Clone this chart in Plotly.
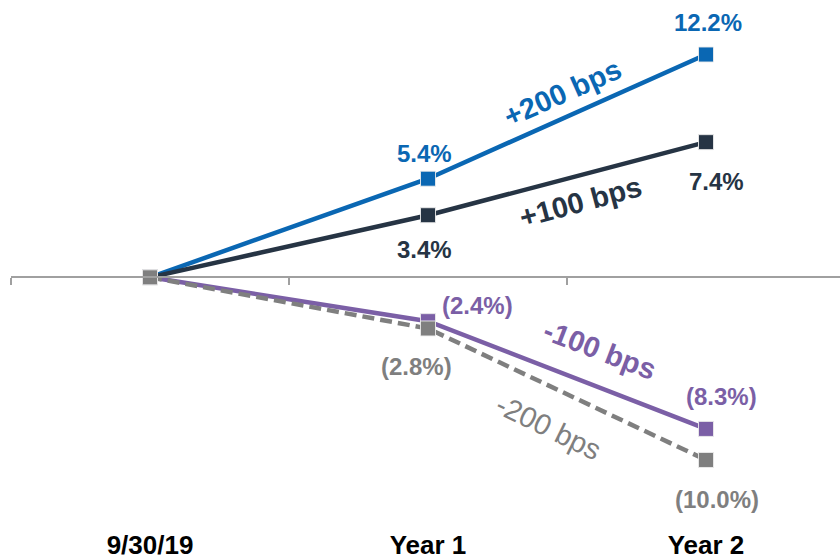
import plotly.graph_objects as go

# Periods on the horizontal axis
periods = ["9/30/19", "Year 1", "Year 2"]

# Rate-shock scenarios: change in value (%)
up200 = [0.0, 5.4, 12.2]
up100 = [0.0, 3.4, 7.4]
down100 = [0.0, -2.4, -8.3]
down200 = [0.0, -2.8, -10.0]

scenario_names = ["+200 bps", "+100 bps", "-100 bps", "-200 bps"]

BLUE = "#0a67b3"
NAVY = "#263444"
PURPLE = "#7b5fa6"
GRAY = "#7f7f7f"

Y_MIN, Y_MAX = -13.67, 15.02

fig = go.Figure()

series = [
    (up200, BLUE, "solid"),
    (up100, NAVY, "solid"),
    (down100, PURPLE, "solid"),
    (down200, GRAY, "12px,6px"),
]
for vals, color, dash in series:
    fig.add_trace(go.Scatter(
        x=periods, y=vals, mode="lines+markers",
        line=dict(color=color, width=4.5, dash=dash),
        marker=dict(symbol="square", size=15, color=color,
                    line=dict(color="rgba(235,235,235,0.9)", width=1)),
        showlegend=False, hoverinfo="skip", cliponaxis=False,
    ))

# invisible trace that carries the bottom category labels
fig.add_trace(go.Scatter(x=periods, y=[0, 0, 0], xaxis="x2", mode="markers",
                         marker=dict(opacity=0), showlegend=False,
                         hoverinfo="skip"))

VAL_FONT = "Liberation Sans, Arial, sans-serif"


def pct(v):
    return f"{v:.1f}%" if v >= 0 else f"({abs(v):.1f}%)"


# value labels: (series, index, color, xshift, yshift)
value_labels = [
    (up200, 1, BLUE, -4, 25),
    (up200, 2, BLUE, 2, 32),
    (up100, 1, NAVY, -4, -34),
    (up100, 2, NAVY, 10, -39),
    (down100, 1, PURPLE, 49, 16),
    (down100, 2, PURPLE, 15, 32),
    (down200, 1, GRAY, -12, -38),
    (down200, 2, GRAY, 11, -40),
]
for vals, i, color, xs, ys in value_labels:
    fig.add_annotation(x=periods[i], y=vals[i], xref="x", yref="y",
                       text=f"<b>{pct(vals[i])}</b>", showarrow=False,
                       xshift=xs, yshift=ys,
                       font=dict(family=VAL_FONT, size=24, color=color))

# scenario names set along the Year 1 -> Year 2 segments
name_labels = [
    (scenario_names[0], up200, BLUE, -24, -5, 24, True),
    (scenario_names[1], up100, NAVY, -15, 13, -23, True),
    (scenario_names[2], down100, PURPLE, 21, 33, 25, True),
    (scenario_names[3], down200, GRAY, 26, -19, -33, False),
]
for name, vals, color, ang, xs, ys, bold in name_labels:
    mid = (vals[1] + vals[2]) / 2
    fig.add_annotation(x=1.5, y=mid, xref="x", yref="y",
                       text=f"<b>{name}</b>" if bold else name,
                       showarrow=False, textangle=ang,
                       xshift=xs, yshift=ys,
                       font=dict(family=VAL_FONT, size=29, color=color))

zero_pos = (0 - Y_MIN) / (Y_MAX - Y_MIN)

fig.update_layout(
    width=840, height=560,
    margin=dict(l=11, r=0, t=3, b=30),
    paper_bgcolor="white", plot_bgcolor="white",
    xaxis=dict(
        type="category", range=[-0.5, 2.482],
        anchor="free", position=zero_pos,
        showline=True, linecolor="#a0a0a0", linewidth=1.5,
        ticks="outside", tickson="boundaries", ticklen=7,
        tickcolor="#a0a0a0", tickwidth=1.5,
        showticklabels=False, showgrid=False, zeroline=False,
    ),
    xaxis2=dict(
        type="category", matches="x", overlaying="x", anchor="y",
        side="bottom", showline=False, ticks="", showgrid=False,
        zeroline=False,
        tickfont=dict(family="Liberation Sans Narrow, Arial Narrow, Liberation Sans, sans-serif",
                      size=26, color="black", weight="bold"),
    ),
    yaxis=dict(range=[Y_MIN, Y_MAX], visible=False, showgrid=False,
               zeroline=False),
)

fig.write_html("out.html")
